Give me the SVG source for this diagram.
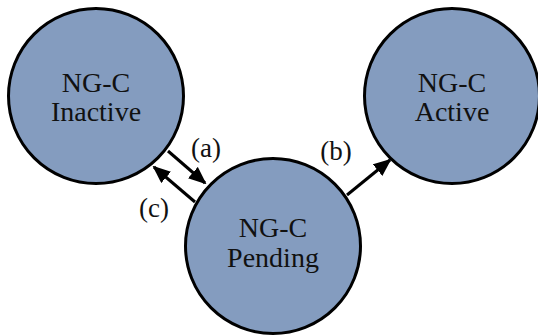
<svg xmlns="http://www.w3.org/2000/svg" width="538" height="336" viewBox="0 0 538 336">
<style>
.node{fill:#849cbf;stroke:#000;stroke-width:3}
.lbl{font-family:"Liberation Serif",serif;font-size:28px;fill:#111;text-anchor:middle}
.edge{stroke:#000;stroke-width:3;fill:none}
.el{font-family:"Liberation Serif",serif;font-size:27px;fill:#111;text-anchor:middle}
</style>
<defs>
<marker id="ah" markerWidth="18" markerHeight="15" refX="16" refY="7.5" orient="auto" markerUnits="userSpaceOnUse">
<path d="M0,0 L18,7.5 L0,15 Z" fill="#000"/>
</marker>
</defs>
<rect width="538" height="336" fill="#fff"/>
<g id="inactive">
<circle class="node" cx="96" cy="96" r="87.5"/>
<text class="lbl" x="96" y="92">NG-C</text>
<text class="lbl" x="96" y="121">Inactive</text>
</g>
<g id="active">
<circle class="node" cx="452" cy="96" r="87.5"/>
<text class="lbl" x="452" y="92">NG-C</text>
<text class="lbl" x="452" y="121">Active</text>
</g>
<g id="pending">
<circle class="node" cx="273" cy="246" r="87.5"/>
<text class="lbl" x="273" y="237">NG-C</text>
<text class="lbl" x="273" y="267">Pending</text>
</g>
<g id="connectors">
<line class="edge" x1="168" y1="151" x2="205" y2="183" marker-end="url(#ah)"/>
<line class="edge" x1="195" y1="202" x2="154" y2="167" marker-end="url(#ah)"/>
<line class="edge" x1="347" y1="195" x2="390" y2="160" marker-end="url(#ah)"/>
<text class="el" x="206" y="157">(a)</text>
<text class="el" x="336" y="160">(b)</text>
<text class="el" x="154" y="217">(c)</text>
</g>
</svg>
